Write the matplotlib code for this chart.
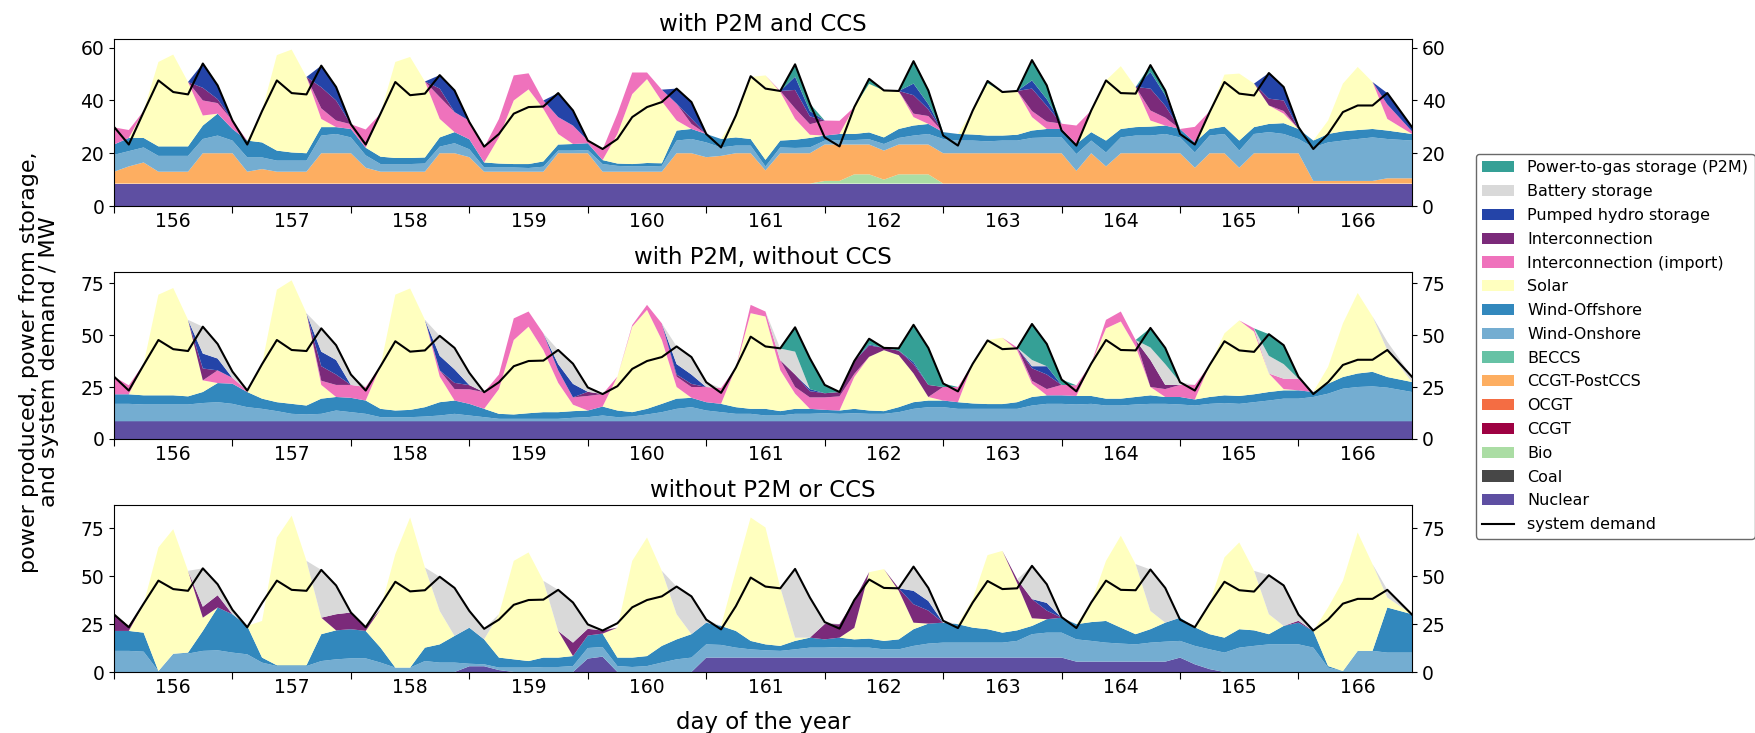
import numpy as np
import matplotlib
matplotlib.use('Agg')
import matplotlib.pyplot as plt
from matplotlib.patches import Patch
from matplotlib.lines import Line2D

# 3-hourly samples from day 156 00:00 to day 166 23:00 (hours since start)
hours = np.r_[np.arange(0, 261, 3), 263]
day_labels = [str(d) for d in range(156, 167)]

# system demand (same in all three scenarios), one row per day
demand = [
    30, 23.3, 35.6, 47.6, 43.2, 42.3, 54, 45.7,
    32.4, 23.3, 36, 47.6, 42.8, 42.3, 53.2, 45.1,
    31, 23.3, 35, 47, 42, 42.6, 49.6, 43.8,
    31.8, 22.5, 27.3, 35, 37.5, 37.7, 42.8, 36.2,
    24.8, 21.6, 25.4, 33.7, 37.5, 39.4, 44.5, 39.4,
    27.3, 22.2, 34.3, 49.2, 44.5, 43.6, 53.7, 38.8,
    26, 22.6, 37.5, 48.2, 43.8, 43.6, 54.9, 43.8,
    26.7, 22.9, 36.2, 47.4, 43.2, 43.6, 55.3, 45.7,
    28.6, 22.9, 36.2, 47.6, 42.8, 42.6, 53.4, 43.8,
    27.3, 23.3, 35.6, 47, 42.6, 41.9, 50.4, 45.1,
    29.9, 21.6, 27.3, 35.6, 38.1, 38.1, 42.8, 29.9,
]

# ---- scenario 1: with P2M and CCS ----
nuclear_1 = [8.5] * 88
bio_1 = [
    0, 0, 0, 0, 0, 0, 0, 0,
    0, 0, 0, 0, 0, 0, 0, 0,
    0, 0, 0, 0, 0, 0, 0, 0,
    0, 0, 0, 0, 0, 0, 0, 0,
    0, 0, 0, 0, 0, 0, 0, 0,
    0, 0, 0, 0, 0, 0, 0, 0,
    1, 1, 3.5, 3.5, 1.5, 3.5, 3.5, 3.5,
    0, 0, 0, 0, 0, 0, 0, 0,
    0, 0, 0, 0, 0, 0, 0, 0,
    0, 0, 0, 0, 0, 0, 0, 0,
    0, 0, 0, 0, 0, 0, 0, 0,
]
ccs_1 = [
    4.5, 6.5, 8, 4.5, 4.5, 4.5, 11.5, 11.5,
    11.5, 4.5, 5.5, 4.5, 4.5, 4.5, 11.5, 11.5,
    11.5, 6, 4.5, 4.5, 4.5, 4.5, 11.5, 11.5,
    10, 4.5, 4.5, 4.5, 4.5, 4.5, 11.5, 11.5,
    11.5, 4.5, 4.5, 4.5, 4.5, 4.5, 11.5, 11.5,
    10, 10.5, 11.5, 11.5, 5, 11.5, 11.5, 11.5,
    13.8, 13.8, 11.3, 11.3, 11, 11.3, 11.3, 11.3,
    11.5, 11.5, 11.5, 11.5, 11.5, 11.5, 11.5, 11.5,
    11.5, 4.8, 11.5, 6.5, 11.5, 11.5, 11.5, 11.5,
    11.5, 6, 11.5, 11.5, 6, 11.5, 11.5, 11.5,
    11.5, 1, 1, 1, 1, 1, 2, 2,
]
onshore_1 = [
    6.4, 5.8, 5.7, 6, 6, 6, 5.4, 6.7,
    4.8, 5.4, 4.4, 4.2, 4.2, 4.2, 6.7, 7.3,
    6, 4.7, 2.9, 2.9, 2.9, 3.1, 2.5, 3.8,
    3, 1.6, 1.6, 1.6, 1.4, 1.9, 1, 1,
    1.2, 2.9, 2.2, 2, 2, 2.2, 4.8, 5.4,
    5.6, 3.2, 2.9, 2.9, 1.5, 2.2, 2, 2.2,
    1.5, 1.7, 1.7, 2, 2.5, 2.5, 3.4, 4,
    5.4, 4.8, 4.8, 4.5, 4.8, 4.8, 5.8, 6,
    6, 6.4, 4.8, 5.3, 6, 6.7, 6.7, 7.3,
    6, 5.8, 6.7, 7.3, 6.5, 7.3, 8, 7.3,
    5.4, 12.7, 14.6, 15.3, 15.9, 16.5, 14.9, 14.3,
]
offshore_1 = [
    3.9, 5, 3.6, 3.6, 3.6, 3.6, 5.1, 8.3,
    4.4, 6.4, 5.7, 3.8, 3.1, 2.8, 3.2, 2.6,
    3.2, 2.9, 2.8, 2.3, 2.3, 2.3, 3.5, 4.2,
    3.8, 1.9, 1.5, 1.3, 1.5, 2, 2.3, 2.5,
    2.6, 1.5, 0.9, 0.9, 1.3, 1, 3.8, 3.8,
    3.2, 3.2, 3.1, 2.5, 2.5, 2.6, 3.1, 3.6,
    1.9, 2.3, 2.3, 2.6, 2.5, 3.4, 3.8, 3.8,
    2.6, 2.5, 2.3, 2.2, 1.9, 2.2, 2.8, 3.2,
    3.2, 3.8, 3.2, 4.5, 3.2, 3.2, 3.4, 3.2,
    3.2, 3.8, 2.5, 2.8, 3.8, 2.6, 3.1, 4.1,
    3.8, 2.6, 3.2, 3.5, 3.4, 3.2, 3.2, 2.5,
]
solar_1 = [
    0, 0, 10.2, 32, 34.8, 24.4, 3.8, 0,
    0, 0, 11.9, 36.2, 39, 28.9, 3.1, 0,
    0, 0, 16.3, 36.4, 38.3, 28.8, 7, 0,
    0, 0, 9.9, 24.1, 28.3, 19.9, 4, 0,
    0, 0, 11.2, 26.5, 31.8, 23.5, 3.8, 0,
    0, 0, 8.3, 23.5, 32, 18.4, 7.9, 1.2,
    0, 0, 10.2, 18.4, 17.8, 14.4, 3.2, 0,
    0, 0, 9.1, 19.8, 16.5, 16.6, 5.1, 0,
    0, 0, 8.2, 22.8, 23.8, 15.2, 2.3, 0,
    0, 0, 6.7, 19.7, 25.4, 16.5, 7, 3.6,
    0, 0, 5.1, 18.1, 23.9, 17.8, 4.4, 0,
]
import_1 = [
    6.5, 3, 0, 0, 0, 0, 5.7, 4,
    3.2, 0, 0, 0, 0, 0, 4, 2.5,
    1.8, 6.9, 0, 0, 0, 0, 8.3, 7.6,
    7, 5.7, 7, 9.5, 6.1, 3.2, 6.4, 7,
    1, 4, 7.7, 8.2, 2.5, 4.4, 6.4, 1.9,
    0, 0, 0, 0, 0, 0.4, 4, 4,
    5.7, 5, 0, 0, 0, 0, 1.3, 3,
    0, 0, 0, 0, 0, 0, 2.3, 2.8,
    2, 7, 0, 0, 0, 0, 3.8, 3,
    0, 5.9, 0, 0, 0, 0, 0, 1,
    0, 0, 0, 0, 0, 0, 5.5, 1,
]
interconn_1 = [
    0, 0, 0, 0, 0, 0, 4.8, 1.5,
    0, 0, 0, 0, 0, 0, 8, 7.6,
    0, 0, 0, 0, 0, 0, 3.2, 0,
    0, 0, 0, 0, 0, 0, 0, 0,
    0, 0, 0, 0, 0, 0, 0, 2,
    0, 0, 0, 0, 0, 0, 7, 3,
    0, 0, 0, 0, 0, 0, 7, 2.5,
    0, 0, 0, 0, 0, 0, 8.5, 6,
    0, 0, 0, 0, 0, 0, 8.3, 4.5,
    0, 0, 0, 0, 0, 0, 2.6, 4,
    0, 0, 0, 0, 0, 0, 0, 0,
]
phs_1 = [
    0, 0, 0, 0, 0, 0, 9.2, 5.2,
    0, 0, 0, 0, 0, 0, 8.2, 5.1,
    0, 0, 0, 0, 0, 0, 5.1, 8.2,
    0, 0, 0, 0, 0, 0, 9.1, 5.7,
    0, 0, 0, 0, 0, 0, 5.7, 6.3,
    0, 0, 0, 0, 0, 0, 5, 2,
    0, 0, 0, 0, 0, 0, 4.4, 2,
    0, 0, 0, 0, 0, 0, 3.1, 2.5,
    0, 0, 0, 0, 0, 0, 6.3, 4,
    0, 0, 0, 0, 0, 0, 9.7, 5.1,
    0, 0, 0, 0, 0, 0, 4.3, 1.6,
]
p2m_1 = [
    0, 0, 0, 0, 0, 0, 0, 0,
    0, 0, 0, 0, 0, 0, 0, 0,
    0, 0, 0, 0, 0, 0, 0, 0,
    0, 0, 0, 0, 0, 0, 0, 0,
    0, 0, 0, 0, 0, 0, 0, 0,
    0, 0, 0, 0, 0, 0, 4.7, 2.8,
    0, 0, 0, 1.9, 0, 0, 8.5, 5.2,
    0, 0, 0, 0.9, 0, 0, 7.7, 5.2,
    0, 0, 0, 0, 0, 0, 2.6, 1.8,
    0, 0, 0, 0, 0, 0, 0, 0,
    0, 0, 0, 0, 0, 0, 0, 0,
]

# ---- scenario 2: with P2M, without CCS ----
nuclear_2 = [8.5] * 88
onshore_2 = [
    8.4, 8.4, 8.1, 8.1, 8.1, 8.1, 8.8, 9.2,
    8.4, 6.8, 6, 4.9, 3.6, 3.3, 3.6, 5.2,
    4.4, 3.6, 2, 2, 2, 2.3, 2.8, 3.6,
    2.8, 2, 1.2, 1.2, 1.2, 1.2, 1.2, 1.7,
    2, 2.8, 2, 2.3, 3.3, 4.4, 6, 6.8,
    5.2, 4.4, 3.6, 3.6, 2.8, 2.8, 3.6, 3.6,
    3.9, 3.6, 3.9, 3.6, 3.6, 4.4, 6, 6.8,
    6.8, 6, 6, 6, 6, 6, 7.6, 8.4,
    8.4, 8.1, 8.4, 7.6, 7.6, 8.1, 8.4, 8.4,
    8.1, 7.6, 8.4, 8.8, 8.4, 9.2, 10, 10.9,
    10.9, 11.7, 13.3, 15.7, 16.5, 16.8, 16.2, 14.1,
]
offshore_2 = [
    4.6, 4.6, 4.4, 4.4, 4.4, 3.9, 5.3, 9.2,
    9.7, 7.3, 4.9, 4.3, 4.8, 4.3, 7.3, 6.5,
    6.9, 6.4, 4, 3.2, 3.5, 4.5, 6.4, 6.4,
    5.6, 4, 2.4, 2.1, 2.7, 3.2, 3.2, 3.2,
    3.2, 4.3, 3.2, 2.1, 2.7, 4, 4.9, 4.5,
    4, 4, 3.2, 2.4, 3.2, 2.1, 2.4, 2.4,
    1.6, 1.6, 2.1, 1.6, 1.3, 2.4, 3.2, 3.2,
    3.2, 3.2, 2.6, 2.3, 2.3, 3.2, 4.1, 4.1,
    4.1, 4.1, 3.8, 3.3, 3.3, 3.6, 4.1, 3.3,
    3.6, 2.9, 3.3, 3.7, 3.8, 3.8, 4.1, 4,
    4, 2.4, 4.8, 5.6, 6.5, 7, 5.1, 4.8,
]
solar_2 = [
    0, 0, 15, 48.4, 51.6, 36.8, 5.6, 0,
    0, 0, 16.6, 54.1, 59.4, 44.4, 6.6, 0,
    0, 0, 20.5, 55.7, 58.4, 42, 12.3, 0,
    0, 0, 11.9, 35.8, 41.6, 29.8, 14.1, 3.1,
    0, 0, 16.3, 41.1, 47.6, 30.7, 5.6, 0,
    0, 0, 19, 46, 44.4, 19.7, 7.3, 0,
    0, 0, 15.3, 25.8, 29.3, 25, 13.8, 1.7,
    0, 0, 19.1, 30.8, 31.9, 25, 6.4, 0,
    0, 0, 15.5, 33.8, 37.1, 24.2, 4, 0,
    0, 0, 15.4, 29.8, 36.3, 30.1, 8.9, 0.6,
    0, 0, 8.1, 25.8, 38.7, 26.6, 12.9, 0,
]
import_2 = [
    8.5, 4.3, 0, 0, 0, 0, 0, 6.1,
    2.8, 0.7, 0, 0, 0, 0, 2, 5.8,
    6.2, 6.5, 0, 0, 0, 0, 3, 5.5,
    7, 8, 7, 10.4, 7.3, 8.1, 6, 3.5,
    7, 6, 0, 0.8, 2.4, 8, 5, 5.2,
    7.3, 7.6, 0, 4, 2.4, 4.8, 3.2, 5.5,
    6, 6.8, 1.5, 0, 0, 0, 0, 0,
    6.5, 7.3, 0, 0, 0, 1.3, 1.4, 3,
    5, 5.1, 0, 4.1, 4.8, 3.2, 0, 3.8,
    5.8, 7, 0, 0, 0, 1.6, 0, 5,
    5.6, 0, 0, 0, 0, 0, 0, 0,
]
interconn_2 = [
    0, 0, 0, 0, 0, 0, 5.7, 0,
    0, 0, 0, 0, 0, 0, 7, 5,
    0, 0, 0, 0, 0, 0, 0, 3,
    2, 0, 0, 0, 0, 0, 0, 0,
    2, 0, 0, 0, 0, 0, 1, 1.5,
    0, 0, 0, 0, 0, 0, 6, 3,
    2, 2.1, 6.2, 5.5, 1.1, 2.2, 4.5, 5.8,
    0, 0, 0, 0, 0, 0, 6, 7,
    0, 0, 0, 0, 0, 0, 13, 2,
    0, 0, 0, 0, 0, 0, 0, 0,
    0, 0, 0, 0, 0, 0, 0, 0,
]
phs_2 = [
    0, 0, 0, 0, 0, 0, 7.2, 5.7,
    0, 0, 0, 0, 0, 0, 7, 7,
    0, 0, 0, 0, 0, 0, 7, 6.5,
    0, 0, 0, 0, 0, 0, 3, 6.5,
    0, 0, 0, 0, 0, 0, 5, 4.5,
    0, 0, 0, 0, 0, 0, 0, 1,
    0, 0, 0, 0.5, 0, 0, 1, 0,
    0, 0, 0, 0, 0, 0, 1, 4,
    0, 0, 0, 0, 0, 0, 0, 0,
    0, 0, 0, 0, 0, 0, 0, 0,
    0, 0, 0, 0, 0, 0, 0, 0,
]
battery_2 = [
    0, 0, 0, 0, 0, 0, 12.9, 7,
    3, 0, 0, 0, 0, 0, 11.2, 7.1,
    5, 0, 0, 0, 0, 0, 9.6, 10.3,
    5.9, 0, 0, 0, 0, 0, 6.8, 9.7,
    2.1, 0, 0, 0, 0, 0, 8.5, 8.4,
    2.3, 0, 0, 0, 0, 5.6, 11, 0,
    0, 0, 0, 0, 0, 0, 0, 0,
    0, 0, 0, 0, 0, 0, 3, 0,
    0, 0, 0, 0, 0, 0, 6, 10,
    1.3, 0, 0, 0, 0, 0, 8.5, 7,
    0, 0, 0, 0, 0, 0, 4.1, 2.5,
]
p2m_2 = [
    0, 0, 0, 0, 0, 0, 0, 0,
    0, 0, 0, 0, 0, 0, 0, 0,
    0, 0, 0, 0, 0, 0, 0, 0,
    0, 0, 0, 0, 0, 0, 0, 0,
    0, 0, 0, 0, 0, 0, 0, 0,
    0, 0, 0, 0, 0, 0, 11.7, 14.8,
    4, 0, 0, 2.7, 0, 1.1, 17.9, 17.8,
    1.7, 0, 0, 0, 0, 0, 17.3, 10.7,
    2.6, 0, 0, 0, 0, 0, 9.4, 7.8,
    0, 0, 0, 0, 0, 0, 10.4, 9.1,
    0.9, 0, 0, 0, 0, 0, 0, 0,
]

# ---- scenario 3: without P2M or CCS ----
nuclear_3 = [
    0, 0, 0, 0, 0, 0, 0, 0,
    0, 0, 0, 0, 0, 0, 0, 0,
    0, 0, 0, 0, 0, 0, 0, 0,
    3, 3, 1, 0, 0, 0, 0, 0,
    7, 8, 0, 0, 0, 0, 0, 0,
    7.5, 7.5, 7.5, 7.5, 7.5, 7.5, 7.5, 7.5,
    7.5, 7.5, 7.5, 7.5, 7.5, 7.5, 7.5, 7.5,
    7.5, 7.5, 7.5, 7.5, 7.5, 7.5, 7.5, 7.5,
    7.5, 5.4, 5.4, 5.4, 5.4, 5.4, 5.4, 5.4,
    7.5, 4, 1.5, 0, 0, 0, 0, 0,
    0, 0, 0, 0, 0, 0, 0, 0,
]
onshore_3 = [
    11, 11, 10.6, 0.5, 9.5, 9.6, 11, 11.3,
    10.1, 9.2, 4.9, 3.1, 3.1, 3.1, 5.7, 6.6,
    7.1, 7.1, 4.9, 2.3, 2.3, 5.7, 4.9, 4.9,
    1.3, 1, 1.3, 2.3, 2.3, 2.6, 2.6, 3.1,
    5.5, 5, 3.1, 2.6, 3.1, 4.9, 6.6, 7.5,
    6.9, 6.6, 5.2, 4.3, 3.8, 3.5, 4.3, 5.2,
    5.2, 5.5, 5.2, 5.2, 4.3, 4.3, 6.1, 7.3,
    7.8, 7.8, 7.8, 7.8, 7.8, 8.7, 12.2, 13,
    13, 11.6, 10.8, 9.9, 9.4, 9, 9.9, 10.4,
    8.7, 9.6, 10.3, 10.1, 12.7, 13.6, 14.4, 14.4,
    14.4, 12.7, 2.3, 0.5, 11, 11, 10.1, 10.1,
]
offshore_3 = [
    10.4, 10.4, 9.9, 0, 0, 0.5, 10.4, 22.3,
    20, 14.8, 2.6, 0.4, 0.4, 0.4, 14, 15.1,
    15.2, 14.3, 7.8, 0, 0, 7, 9.5, 13.9,
    18.8, 13, 5.2, 4.3, 3.4, 4.9, 4.9, 5.2,
    6.5, 7, 4.4, 4.9, 5.2, 8.7, 10.4, 12.2,
    11.3, 9.9, 8.7, 4.4, 3.1, 2.6, 4.4, 5.2,
    4.3, 4.9, 4.3, 4.7, 4.4, 5.2, 8.7, 10.4,
    10.4, 9.6, 7.8, 7, 5.2, 5.5, 4.3, 7,
    7.8, 7.9, 9.8, 11.3, 8.3, 5.3, 7, 9.9,
    12.1, 9.7, 7.9, 7.8, 9.6, 8.1, 5.3, 9.6,
    11.3, 8.7, 0.8, 0, 0, 0, 23.5, 20,
]
solar_3 = [
    0, 0, 14.8, 64.4, 64.9, 42.6, 6.9, 0,
    0, 0, 19.1, 66.5, 77.9, 54.4, 8.6, 0,
    0, 0, 20, 59.1, 78.2, 41.7, 17.4, 0,
    0, 0, 22.6, 51.3, 56.6, 40, 13.9, 0,
    0, 0, 15.6, 50.4, 61.8, 39.1, 13.1, 0,
    0, 0, 31.3, 64.3, 60.9, 30.4, 1.7, 0,
    0, 0, 6, 34.6, 37.4, 25.3, 3.4, 0,
    0, 0, 14.9, 38.6, 42.6, 24.6, 4, 0,
    0, 0, 10, 31.3, 47.9, 36.5, 9.5, 0,
    0, 0, 15.9, 41.8, 45.2, 31, 10.4, 0,
    0, 0, 30.5, 47, 61.7, 45.2, 5.2, 0,
]
interconn_3 = [
    8.6, 2.6, 0, 0, 0, 0, 5.7, 6.4,
    0, 0, 0, 0, 0, 0, 0, 8.4,
    8.7, 2, 0, 0, 0, 0, 0, 0,
    0, 0, 0, 0, 0, 0, 0, 7,
    3.5, 1.6, 0, 0, 0, 0, 0, 0,
    0, 0, 0, 0, 0, 0, 0, 0,
    8, 7, 14.5, 0, 0, 1.3, 9.6, 6.8,
    0, 0, 0, 0, 0, 2, 10, 4.5,
    0, 0, 0, 0, 0, 0, 0, 0,
    0, 0, 0, 0, 0, 0, 0, 0,
    1, 0, 0, 0, 0, 0, 0, 0,
]
phs_3 = [
    0, 0, 0, 0, 0, 0, 0, 0,
    0, 0, 0, 0, 0, 0, 0, 0,
    0, 0, 0, 0, 0, 0, 0, 0,
    0, 0, 0, 0, 0, 0, 0, 0,
    0, 0, 0, 0, 0, 0, 0, 0,
    0, 0, 0, 0, 0, 0, 0, 0,
    0, 0, 0, 0, 0, 0, 7, 5,
    0, 0, 0, 0, 0, 0, 0, 4,
    0, 0, 0, 0, 0, 0, 0, 0,
    0, 0, 0, 0, 0, 0, 0, 0,
    0, 0, 0, 0, 0, 0, 0, 0,
]
battery_3 = [
    0, 0, 0, 0, 0, 0, 20, 5.7,
    2.3, 0, 0, 0, 0, 0, 24.9, 15,
    0, 0, 0, 0, 0, 0, 17.8, 25,
    8.7, 5.5, 0, 0, 0, 0, 21.4, 20.9,
    2.3, 0, 0, 0, 0, 0, 14.4, 19.7,
    1.6, 0, 0, 0, 0, 0, 35.8, 20.9,
    1, 0, 0, 0, 0, 0, 12.6, 6.8,
    1, 0, 0, 0, 0, 0, 17.3, 9.7,
    0.3, 0, 0, 0, 0, 0, 21.6, 18.1,
    0, 0, 0, 0, 0, 0, 20.3, 21.1,
    3.2, 0, 0, 0, 0, 0, 4, 0,
]

colors = {
    'Power-to-gas storage (P2M)': '#35a096',
    'Battery storage': '#d9d9d9',
    'Pumped hydro storage': '#2444a8',
    'Interconnection': '#7b2a7a',
    'Interconnection (import)': '#ef72bc',
    'Solar': '#ffffbf',
    'Wind-Offshore': '#3288bd',
    'Wind-Onshore': '#74add1',
    'BECCS': '#66c2a5',
    'CCGT-PostCCS': '#fdae61',
    'OCGT': '#f46d43',
    'CCGT': '#9e0142',
    'Bio': '#abdda4',
    'Coal': '#474747',
    'Nuclear': '#5e4fa2',
}

# layers listed bottom to top
panels = [
    ('with P2M and CCS', 63.3, [0, 20, 40, 60], [
        ('Nuclear', nuclear_1), ('Bio', bio_1), ('CCGT-PostCCS', ccs_1),
        ('Wind-Onshore', onshore_1), ('Wind-Offshore', offshore_1),
        ('Solar', solar_1), ('Interconnection (import)', import_1),
        ('Interconnection', interconn_1), ('Pumped hydro storage', phs_1),
        ('Power-to-gas storage (P2M)', p2m_1)]),
    ('with P2M, without CCS', 80.3, [0, 25, 50, 75], [
        ('Nuclear', nuclear_2), ('Wind-Onshore', onshore_2),
        ('Wind-Offshore', offshore_2), ('Solar', solar_2),
        ('Interconnection (import)', import_2), ('Interconnection', interconn_2),
        ('Pumped hydro storage', phs_2), ('Battery storage', battery_2),
        ('Power-to-gas storage (P2M)', p2m_2)]),
    ('without P2M or CCS', 87, [0, 25, 50, 75], [
        ('Nuclear', nuclear_3), ('Wind-Onshore', onshore_3),
        ('Wind-Offshore', offshore_3), ('Solar', solar_3),
        ('Interconnection', interconn_3), ('Pumped hydro storage', phs_3),
        ('Battery storage', battery_3)]),
]

W, H = 1756, 733
fig = plt.figure(figsize=(W / 100, H / 100), dpi=100)

boxes = [(39, 206), (272, 439), (505, 672)]
left, right = 114, 1412

for (title, ytop, yticks, layers), (top, bot) in zip(panels, boxes):
    ax = fig.add_axes([left / W, 1 - bot / H, (right - left) / W, (bot - top) / H])
    ax.stackplot(hours, *[np.array(v) for _, v in layers],
                 colors=[colors[n] for n, _ in layers], linewidth=0)
    ax.plot(hours, demand, color='black', lw=1.5)
    ax.set_xlim(0, 263)
    ax.set_ylim(0, ytop)
    ax.set_yticks(yticks)
    ax.set_xticks(np.arange(0, 241, 24))
    ax.set_xticklabels([])
    ax.set_xticks(np.arange(12, 264, 24), minor=True)
    ax.set_xticklabels(day_labels, minor=True)
    ax.tick_params(axis='x', which='minor', length=0, pad=4, labelsize=13.5)
    ax.tick_params(axis='x', which='major', length=5)
    ax.tick_params(axis='y', right=True, labelright=True, labelsize=13.5)
    ax.set_title(title, fontsize=16.5, pad=6)

fig.text(39 / W, 1 - 362 / H, 'power produced, power from storage,\nand system demand / MW',
         rotation=90, ha='center', va='center', fontsize=16, linespacing=1.05)
fig.text((left + right) / 2 / W, 1 - 722 / H, 'day of the year',
         ha='center', va='center', fontsize=16.5)

legend_order = ['Power-to-gas storage (P2M)', 'Battery storage', 'Pumped hydro storage',
                'Interconnection', 'Interconnection (import)', 'Solar', 'Wind-Offshore',
                'Wind-Onshore', 'BECCS', 'CCGT-PostCCS', 'OCGT', 'CCGT', 'Bio', 'Coal',
                'Nuclear']
handles = [Patch(facecolor=colors[n], edgecolor='none') for n in legend_order]
handles.append(Line2D([], [], color='black', lw=1.5))
labels = legend_order + ['system demand']
fig.legend(handles, labels, loc='upper left', bbox_to_anchor=(1476 / W, 1 - 154 / H),
           fontsize=11.5, frameon=True, edgecolor='#444444', labelspacing=0.55,
           handlelength=2.0, borderpad=0.4, borderaxespad=0)

fig.savefig('out.png', dpi=100)
